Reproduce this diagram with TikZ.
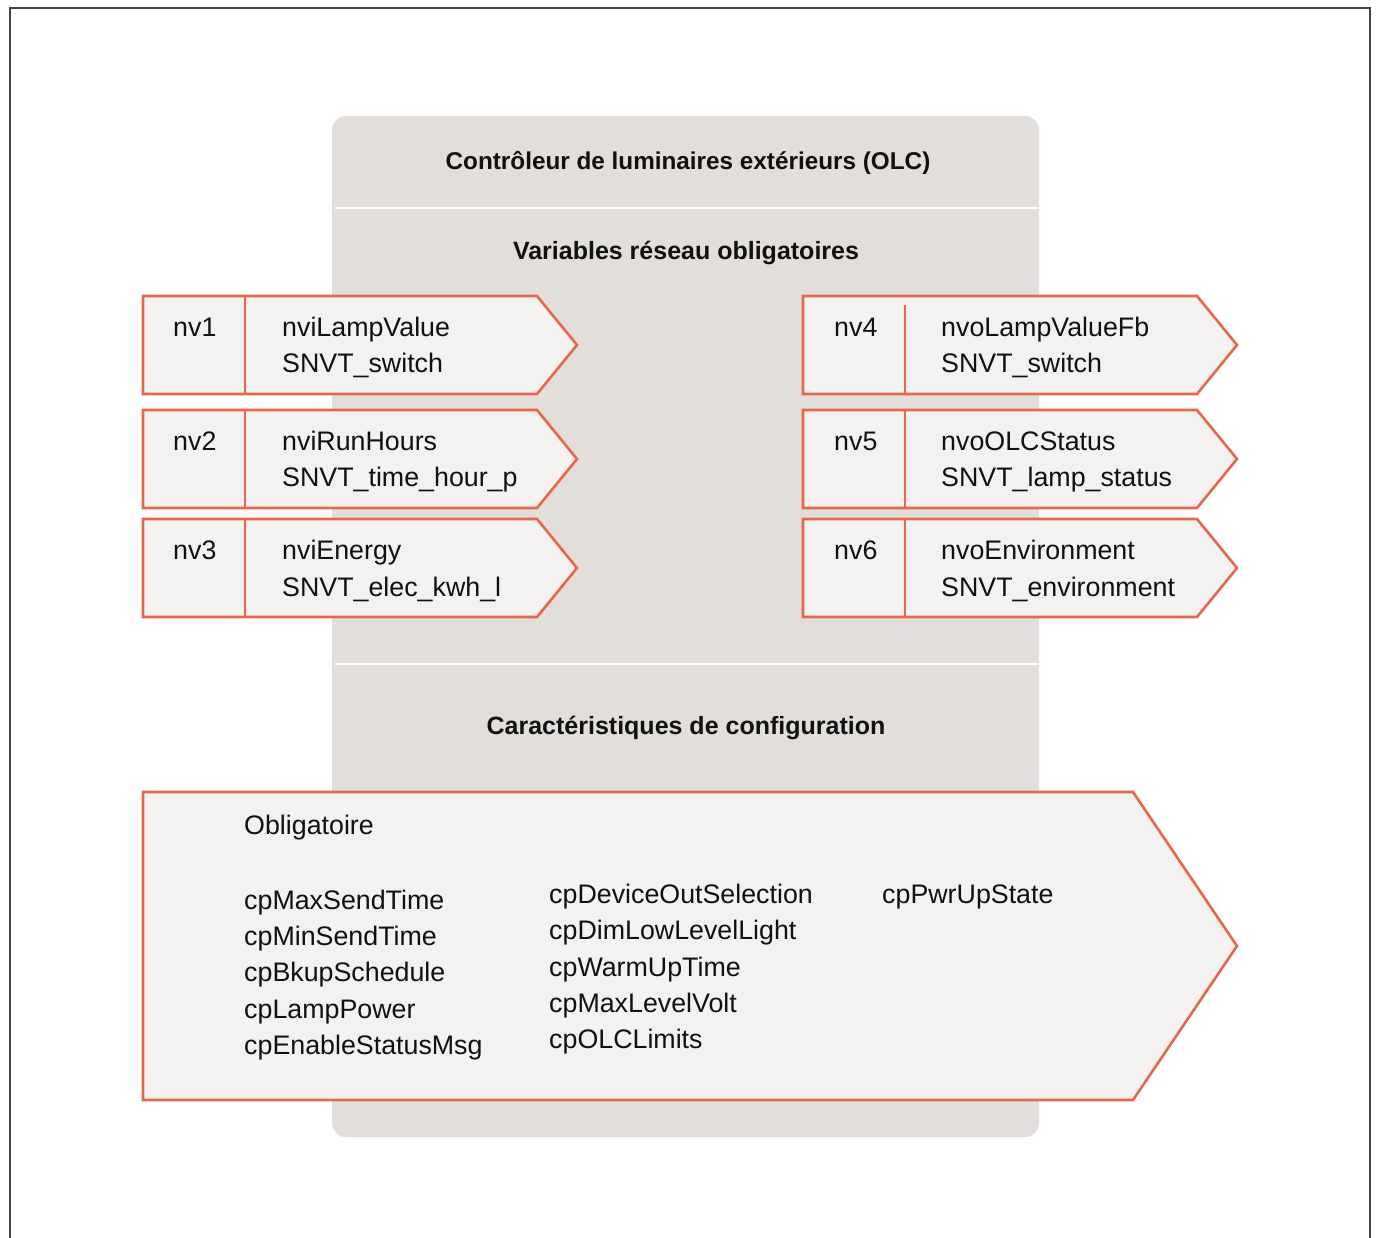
\documentclass[tikz,border=0pt]{standalone}
\usepackage{fontspec}
\setmainfont{Liberation Sans}
\definecolor{orng}{HTML}{E8674A}
\definecolor{boxfill}{HTML}{F3F2F0}
\definecolor{panel}{HTML}{E2DFDA}
\definecolor{ink}{HTML}{111111}
\definecolor{framec}{HTML}{444444}
\begin{document}
\begin{tikzpicture}[x=1pt,y=-1pt,
  box/.style={draw=orng, line width=2.6pt, fill=boxfill, line join=miter},
  divline/.style={draw=orng, line width=2.6pt},
  txt/.style={anchor=base west, inner sep=0pt, font=\fontsize{26.8}{36}\selectfont, text=ink},
  head/.style={anchor=base, inner sep=0pt, font=\fontsize{25}{30}\selectfont\bfseries, text=ink},
  sep/.style={white, line width=2.5pt},
  framestyle/.style={draw=framec, line width=1.5pt}]
\useasboundingbox (0,0) rectangle (1376,1238);
\fill[white] (0,0) rectangle (1376,1238);
\draw[framestyle] (10,1250) -- (10,8) -- (1370,8) -- (1370,1250);
% grey panel
\fill[panel, rounded corners=14pt] (332,116) rectangle (1039,1137);
\draw[sep] (335,208) -- (1039,208);
\draw[sep] (335,664) -- (1039,664);
% headings
\node[head, font=\fontsize{24.3}{30}\selectfont\bfseries] (title) at (688,170) {Contrôleur de luminaires extérieurs (OLC)};
\node[head] (hvar) at (686,260) {Variables réseau obligatoires};
\node[head] (hcfg) at (686,734) {Caractéristiques de configuration};
% left boxes
\draw[box] (143,296) -- (537,296) -- (577,345) -- (537,394) -- (143,394) -- cycle;
\draw[divline] (245,296) -- (245,394);
\draw[box] (143,410) -- (537,410) -- (577,459) -- (537,508) -- (143,508) -- cycle;
\draw[divline] (245,410) -- (245,508);
\draw[box] (143,519) -- (537,519) -- (577,568) -- (537,617) -- (143,617) -- cycle;
\draw[divline] (245,519) -- (245,617);
% right boxes
\draw[box] (803,296) -- (1197,296) -- (1237,345) -- (1197,394) -- (803,394) -- cycle;
\draw[divline] (905,305) -- (905,394);
\draw[box] (803,410) -- (1197,410) -- (1237,459) -- (1197,508) -- (803,508) -- cycle;
\draw[divline] (905,410) -- (905,508);
\draw[box] (803,519) -- (1197,519) -- (1237,568) -- (1197,617) -- (803,617) -- cycle;
\draw[divline] (905,519) -- (905,617);
% left texts
\node[txt] (nv1) at (173,337) {nv1};
\node[txt] (nv1a) at (282,337) {nviLampValue};
\node[txt] (nv1b) at (282,373) {SNVT\_switch};
\node[txt] (nv2) at (173,450) {nv2};
\node[txt] (nv2a) at (282,450) {nviRunHours};
\node[txt] (nv2b) at (282,486) {SNVT\_time\_hour\_p};
\node[txt] (nv3) at (173,559) {nv3};
\node[txt] (nv3a) at (282,559) {nviEnergy};
\node[txt] (nv3b) at (282,596) {SNVT\_elec\_kwh\_l};
% right texts
\node[txt] (nv4) at (834,337) {nv4};
\node[txt] (nv4a) at (941,337) {nvoLampValueFb};
\node[txt] (nv4b) at (941,373) {SNVT\_switch};
\node[txt] (nv5) at (834,450) {nv5};
\node[txt] (nv5a) at (941,450) {nvoOLCStatus};
\node[txt] (nv5b) at (941,486) {SNVT\_lamp\_status};
\node[txt] (nv6) at (834,559) {nv6};
\node[txt] (nv6a) at (941,559) {nvoEnvironment};
\node[txt] (nv6b) at (941,596) {SNVT\_environment};
% big box
\draw[box] (143,792) -- (1133,792) -- (1237,946) -- (1133,1100) -- (143,1100) -- cycle;
\node[txt] (oblig) at (244,834) {Obligatoire};
\node[txt] (c1a) at (244,909) {cpMaxSendTime};
\node[txt] (c1b) at (244,945) {cpMinSendTime};
\node[txt] (c1c) at (244,981) {cpBkupSchedule};
\node[txt] (c1d) at (244,1018) {cpLampPower};
\node[txt] (c1e) at (244,1054) {cpEnableStatusMsg};
\node[txt] (c2a) at (549,903) {cpDeviceOutSelection};
\node[txt] (c2b) at (549,939) {cpDimLowLevelLight};
\node[txt] (c2c) at (549,976) {cpWarmUpTime};
\node[txt] (c2d) at (549,1012) {cpMaxLevelVolt};
\node[txt] (c2e) at (549,1048) {cpOLCLimits};
\node[txt] (c3a) at (882,903) {cpPwrUpState};
\end{tikzpicture}
\end{document}
